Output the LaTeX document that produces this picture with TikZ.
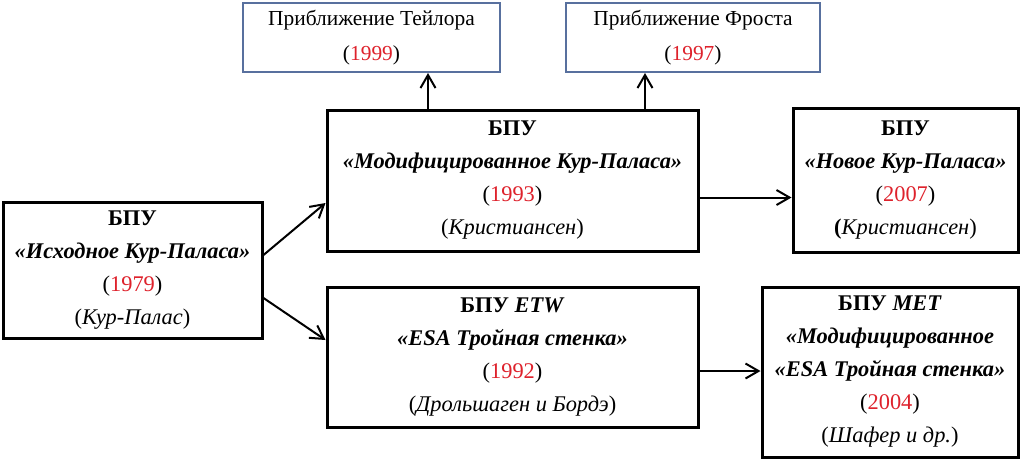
\documentclass[tikz,border=0pt]{standalone}
\usepackage{fontspec}
\setmainfont{Liberation Serif}
\usetikzlibrary{calc,positioning,arrows.meta}

\definecolor{godred}{RGB}{222,34,44}
\definecolor{ramka}{RGB}{88,112,158}
\newcommand{\rok}[1]{(\textcolor{godred}{#1})}

\begin{document}
\begin{tikzpicture}[x=0.5pt,y=-0.5pt,inner sep=0.4mm,
  blok/.style={draw=black,line width=1.5pt,align=center,font=\fontsize{11.2}{16.5}\selectfont},
  pribl/.style={draw=ramka,line width=1pt,align=center,font=\fontsize{10.7}{17.5}\selectfont},
  strz/.style={-{Straight Barb[length=6.5pt,width=7.5pt]},line width=1pt}]

\useasboundingbox (0,0) rectangle (1033,462);

\node[pribl,minimum width=128.5pt,minimum height=34.5pt] (taylor) at (371.5,37.5) {Приближение Тейлора\\ \rok{1999}}; %gora lewo
\node[pribl,minimum width=127pt,minimum height=34.5pt] (frost) at (693,37.5) {Приближение Фроста\\ \rok{1997}}; %gora prawo

\node[blok,minimum width=129.5pt,minimum height=68pt] (init) at (132.5,270)
  {\textbf{БПУ}\\ \textbf{\textit{«Исходное Кур-Паласа»}}\\ \rok{1979}\\ (\textit{Кур-Палас})}; %lewo
\node[blok,minimum width=185.5pt,minimum height=70.5pt] (mod) at (512.5,180.5)
  {\textbf{БПУ}\\ \textbf{\textit{«Модифицированное Кур-Паласа»}}\\ \rok{1993}\\ (\textit{Кристиансен})}; %srodek gora
\node[blok,minimum width=112.5pt,minimum height=72pt] (novoe) at (905.5,180)
  {\textbf{БПУ}\\ \textbf{\textit{«Новое Кур-Паласа»}}\\ \rok{2007}\\ \textbf{(}\textit{Кристиансен})}; %prawo gora
\node[blok,minimum width=185.5pt,minimum height=70pt] (etw) at (512.5,357)
  {\textbf{БПУ \textit{ETW}}\\ \textbf{\textit{«ESA Тройная стенка»}}\\ \rok{1992}\\ (\textit{Дрольшаген и Бордэ})}; %srodek dol
\node[blok,minimum width=128pt,minimum height=85pt] (met) at (890,372)
  {\textbf{БПУ \textit{MET}}\\ \textbf{\textit{«Модифицированное}}\\ \textbf{\textit{«ESA Тройная стенка»}}\\ \rok{2004}\\ (\textit{Шафер и др.})}; %prawo dol

\coordinate (u1) at ($(mod.north)+(-84.5,0)$);
\coordinate (u2) at ($(mod.north)+(132.5,0)$);
\coordinate (r1) at ($(mod.east)+(0,17)$);
\coordinate (r2) at ($(etw.east)+(0,14)$);

\draw[strz] (u1) -- (u1 |- taylor.south);
\draw[strz] (u2) -- (u2 |- frost.south);
\draw[strz] ($(init.east)+(0,-15)$) -- ($(mod.west)+(0,22.5)$);
\draw[strz] ($(init.east)+(0,28)$) -- ($(etw.west)+(0,-17)$);
\draw[strz] (r1) -- (r1 -| novoe.west);
\draw[strz] (r2) -- (r2 -| met.west);
\end{tikzpicture}
\end{document}
